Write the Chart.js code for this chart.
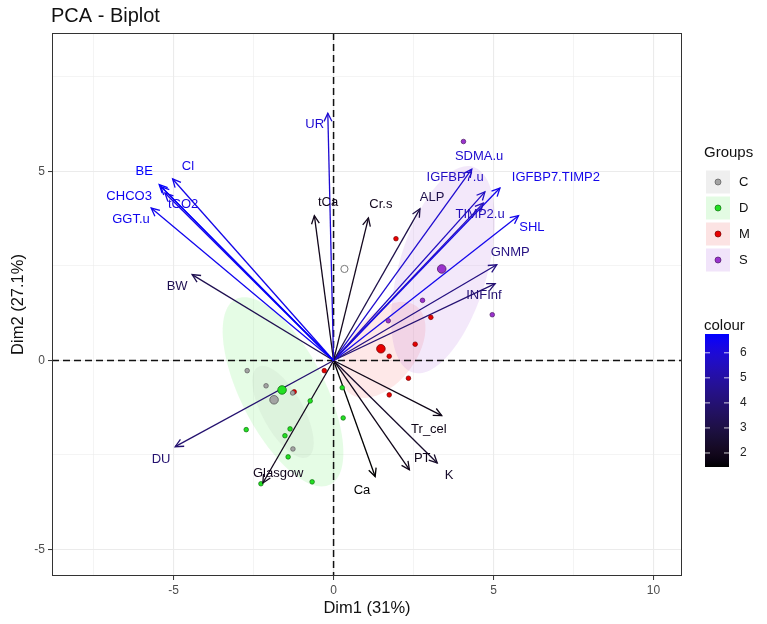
<!DOCTYPE html>
<html><head><meta charset="utf-8">
<script src="https://cdn.jsdelivr.net/npm/chart.js@4.4.1/dist/chart.umd.min.js"></script>
<style>html,body{margin:0;padding:0;background:#fff}#wrap{width:767px;height:624px;position:relative}</style>
</head><body><div id="wrap"><canvas id="c" width="767" height="624" style="width:767px;height:624px"></canvas></div>
<script>
// ---------------- data ----------------
const varNames   = ['UR','BE','Cl','CHCO3','tCO2','GGT.u','BW','DU','tCa','Cr.s','ALP','SDMA.u','IGFBP7.u','IGFBP7.TIMP2','TIMP2.u','SHL','GNMP','INFInf','Tr_cel','PT','K','Ca','Glasgow'];
const varX       = [-0.18,-5.45,-5.03,-5.40,-5.27,-5.70,-4.42,-4.95,-0.60,1.09,2.70,4.32,4.73,5.20,4.68,5.78,5.10,5.05,3.38,2.37,3.24,1.30,-2.21];
const varY       = [6.54,4.65,4.80,4.60,4.43,4.03,2.27,-2.28,3.83,3.77,4.01,5.06,4.46,4.56,4.16,3.83,2.53,2.03,-1.46,-2.89,-2.71,-3.07,-3.24];
const varContrib = [5.9,6.75,6.34,6.5,6.23,6.43,3.25,3.91,1.97,2.03,3.1,5.85,5.6,6.35,5.4,6.39,4.32,3.95,1.81,1.85,2.36,1.45,2.0];
const labelX     = [-0.59,-5.92,-4.55,-6.39,-4.70,-6.33,-4.89,-5.39,-0.17,1.48,3.08,4.55,3.80,6.95,4.58,6.20,5.52,4.70,2.98,2.77,3.61,0.89,-1.73];
const labelY     = [6.24,4.99,5.12,4.33,4.12,3.72,1.95,-2.63,4.17,4.12,4.30,5.39,4.83,4.83,3.86,3.51,2.85,1.71,-1.83,-2.60,-3.03,-3.45,-2.99];

const groupNames = ['C','D','M','S'];
const indCx = [-2.70,-2.11,-1.28,-1.27];
const indCy = [-0.27,-0.67,-0.86,-2.34];
const indDx = [-0.73,-2.73,-1.36,-1.52,-1.42,-2.27,-0.67,0.27,0.30];
const indDy = [-1.07,-1.83,-1.81,-1.99,-2.55,-3.26,-3.21,-0.72,-1.52];
const indMx = [-0.29,1.74,1.74,2.55,2.34,1.95,3.04,-1.23];
const indMy = [-0.27,0.11,-0.91,0.43,-0.47,3.22,1.14,-0.83];
const indSx = [4.06,2.78,4.96,1.71];
const indSy = [5.79,1.59,1.21,1.05];
const openX = [0.34];
const openY = [2.42];
const meanX = [-1.86,-1.61,1.48,3.38];
const meanY = [-1.04,-0.78,0.31,2.42];
// confidence ellipses: centre and two conjugate half-axes (data units)
const ellCx = [-1.58,-1.58,1.55,3.42];
const ellCy = [-1.36,-0.83,0.28,2.40];
const ellAx = [0.78,1.48,1.03,0.94];
const ellAy = [-1.19,-2.45,1.16,2.72];
const ellBx = [0.56,1.17,0.83,1.32];
const ellBy = [0.26,0.51,-0.52,-0.33];

const xTickValues = [-7.5,-5,-2.5,0,2.5,5,7.5,10];
const yTickValues = [-5,-2.5,0,2.5,5,7.5];
const colourTicks = [2,3,4,5,6];
const colourLimits = [1.44,6.75];
const xLimits = [-8.80,10.89];
const yLimits = [-5.70,8.66];

// ---------------- styles ----------------
const FONT = '"Liberation Sans", Arial, Helvetica, sans-serif';
const groupFill   = ['#A3A3A3','#22E022','#E80000','#9A32CD'];
const groupBorder = ['#5a5a5a','#117011','#7a0000','#4d1a66'];
const ellFill     = ['rgba(120,130,120,0.07)','rgba(0,230,0,0.10)','rgba(240,0,0,0.09)','rgba(150,50,205,0.11)'];
const keyFill     = ['#EFEFEF','#E3FBE3','#FCE3E3','#F1E4FA'];

// Lab interpolation black -> blue (as ggplot gradient)
function s2l(c){c/=255;return c<=0.04045?c/12.92:Math.pow((c+0.055)/1.055,2.4);}
function l2s(c){const v=c<=0.0031308?12.92*c:1.055*Math.pow(c,1/2.4)-0.055;return Math.round(Math.max(0,Math.min(1,v))*255);}
function toLab(rgb){const r=s2l(rgb[0]),g=s2l(rgb[1]),b=s2l(rgb[2]);
  const X=(0.4124*r+0.3576*g+0.1805*b)/0.95047,Y=0.2126*r+0.7152*g+0.0722*b,Z=(0.0193*r+0.1192*g+0.9505*b)/1.08883;
  const f=t=>t>0.008856?Math.cbrt(t):7.787*t+16/116;const fx=f(X),fy=f(Y),fz=f(Z);
  return [116*fy-16,500*(fx-fy),200*(fy-fz)];}
function fromLab(lab){const fy=(lab[0]+16)/116,fx=fy+lab[1]/500,fz=fy-lab[2]/200;
  const fi=t=>t*t*t>0.008856?t*t*t:(t-16/116)/7.787;
  const X=fi(fx)*0.95047,Y=fi(fy),Z=fi(fz)*1.08883;
  const r=3.2406*X-1.5372*Y-0.4986*Z,g=-0.9689*X+1.8758*Y+0.0415*Z,b=0.0557*X-0.2040*Y+1.0570*Z;
  return 'rgb('+l2s(r)+','+l2s(g)+','+l2s(b)+')';}
const LAB_LO=toLab([0,0,0]),LAB_HI=toLab([0,0,255]);
function gradColour(v){let t=(v-colourLimits[0])/(colourLimits[1]-colourLimits[0]);t=Math.max(0,Math.min(1,t));
  return fromLab([0,1,2].map(k=>LAB_LO[k]+(LAB_HI[k]-LAB_LO[k])*t));}

// ---------------- datasets ----------------
const zip=(xs,ys)=>xs.map((x,i)=>({x:x,y:ys[i]}));
const datasets=[];
datasets.push({label:'means',data:zip(meanX,meanY),pointRadius:4.3,pointBackgroundColor:groupFill,pointBorderColor:groupBorder,pointBorderWidth:0.8,showLine:false});
[[indCx,indCy],[indDx,indDy],[indMx,indMy],[indSx,indSy]].forEach((g,i)=>{
  datasets.push({label:groupNames[i],data:zip(g[0],g[1]),pointRadius:2.3,pointBackgroundColor:groupFill[i],pointBorderColor:groupBorder[i],pointBorderWidth:0.7,showLine:false});
});
datasets.push({label:'open',data:zip(openX,openY),pointRadius:3.6,pointBackgroundColor:'#ffffff',pointBorderColor:'#777777',pointBorderWidth:1,showLine:false});
varNames.forEach((n,i)=>{
  datasets.push({label:n,data:[{x:0,y:0},{x:varX[i],y:varY[i]}],showLine:true,borderColor:gradColour(varContrib[i]),borderWidth:1.3,pointRadius:0,fill:false});
});

// ---------------- plugin ----------------
function P(chart,x,y){return [chart.scales.x.getPixelForValue(x),chart.scales.y.getPixelForValue(y)];}
const biplot={
  id:'biplot',
  beforeDatasetsDraw(chart){
    const ctx=chart.ctx,a=chart.chartArea;
    ctx.save();ctx.beginPath();ctx.rect(a.left,a.top,a.right-a.left,a.bottom-a.top);ctx.clip();
    [1,2,3,0].forEach(i=>{
      const [cx,cy]=P(chart,ellCx[i],ellCy[i]);
      const [ax,ay]=P(chart,ellCx[i]+ellAx[i],ellCy[i]+ellAy[i]);
      const [bx,by]=P(chart,ellCx[i]+ellBx[i],ellCy[i]+ellBy[i]);
      const ux=ax-cx,uy=ay-cy,vx=bx-cx,vy=by-cy;
      ctx.beginPath();
      for(let k=0;k<=120;k++){const t=k/120*2*Math.PI;const X=cx+ux*Math.cos(t)+vx*Math.sin(t),Y=cy+uy*Math.cos(t)+vy*Math.sin(t);k?ctx.lineTo(X,Y):ctx.moveTo(X,Y);}
      ctx.closePath();ctx.fillStyle=ellFill[i];ctx.fill();
    });
    const [ox,oy]=P(chart,0,0);
    ctx.strokeStyle='#111';ctx.lineWidth=1.5;ctx.setLineDash([7,4]);
    ctx.beginPath();ctx.moveTo(a.left,oy);ctx.lineTo(a.right,oy);ctx.stroke();
    ctx.beginPath();ctx.moveTo(ox,a.top);ctx.lineTo(ox,a.bottom);ctx.stroke();
    ctx.restore();
  },
  afterDatasetsDraw(chart){
    const ctx=chart.ctx;const [ox,oy]=P(chart,0,0);
    ctx.save();
    varNames.forEach((n,i)=>{
      const [tx,ty]=P(chart,varX[i],varY[i]);const col=gradColour(varContrib[i]);
      const ang=Math.atan2(ty-oy,tx-ox),L=9,h=0.45;
      ctx.strokeStyle=col;ctx.lineWidth=1.3;ctx.setLineDash([]);
      ctx.beginPath();
      ctx.moveTo(tx-L*Math.cos(ang-h),ty-L*Math.sin(ang-h));ctx.lineTo(tx,ty);
      ctx.lineTo(tx-L*Math.cos(ang+h),ty-L*Math.sin(ang+h));ctx.stroke();
    });
    ctx.font='13px '+FONT;ctx.textAlign='center';ctx.textBaseline='middle';
    varNames.forEach((n,i)=>{
      const [lx,ly]=P(chart,labelX[i],labelY[i]);
      ctx.fillStyle=gradColour(varContrib[i]);ctx.fillText(n,lx,ly);
    });
    ctx.restore();
  },
  afterDraw(chart){
    const ctx=chart.ctx,a=chart.chartArea;
    ctx.save();
    ctx.strokeStyle='#333';ctx.lineWidth=1;ctx.setLineDash([]);
    ctx.strokeRect(a.left+0.5,a.top+0.5,a.right-a.left-1,a.bottom-a.top-1);
    // title
    ctx.fillStyle='#111';ctx.font='20px '+FONT;ctx.textAlign='left';ctx.textBaseline='alphabetic';
    ctx.fillText('PCA - Biplot',51,22);
    // Groups legend
    ctx.font='15px '+FONT;ctx.fillStyle='#111';ctx.textBaseline='middle';
    ctx.fillText('Groups',704,153);
    groupNames.forEach((g,i)=>{
      const cy=182+i*26;
      ctx.fillStyle=keyFill[i];ctx.fillRect(706,cy-11.5,24,23);
      ctx.beginPath();ctx.arc(718,cy,3,0,2*Math.PI);ctx.fillStyle=groupFill[i];ctx.fill();
      ctx.lineWidth=0.7;ctx.strokeStyle=groupBorder[i];ctx.stroke();
      ctx.fillStyle='#111';ctx.font='13px '+FONT;ctx.fillText(g,739,cy);
    });
    // colour bar
    ctx.font='15px '+FONT;ctx.fillStyle='#111';ctx.fillText('colour',704,326);
    const bx=705,bw=24,bt=334,bb=467;
    const gr=ctx.createLinearGradient(0,bb,0,bt);
    for(let k=0;k<=20;k++){const v=colourLimits[0]+(colourLimits[1]-colourLimits[0])*k/20;gr.addColorStop(k/20,gradColour(v));}
    ctx.fillStyle=gr;ctx.fillRect(bx,bt,bw,bb-bt);
    ctx.font='12px '+FONT;
    colourTicks.forEach(v=>{
      const y=bb-(v-colourLimits[0])/(colourLimits[1]-colourLimits[0])*(bb-bt);
      ctx.strokeStyle='rgba(255,255,255,0.8)';ctx.lineWidth=1;
      ctx.beginPath();ctx.moveTo(bx,y);ctx.lineTo(bx+5,y);ctx.moveTo(bx+bw-5,y);ctx.lineTo(bx+bw,y);ctx.stroke();
      ctx.fillStyle='#222';ctx.fillText(String(v),740,y);
    });
    ctx.restore();
  }
};

const isMajor=v=>Math.abs(v%5)<1e-9;
new Chart(document.getElementById('c'),{
  type:'scatter',
  data:{datasets:datasets},
  plugins:[biplot],
  options:{
    responsive:false,animation:false,devicePixelRatio:1,
    layout:{padding:{top:33,right:85,bottom:0,left:0}},
    plugins:{legend:{display:false},tooltip:{enabled:false},title:{display:false}},
    scales:{
      x:{type:'linear',min:xLimits[0],max:xLimits[1],
        afterBuildTicks:s=>{s.ticks=xTickValues.map(v=>({value:v}));},
        afterFit:s=>{s.height=48;},
        ticks:{callback:v=>isMajor(v)?String(v):'',color:'#4d4d4d',font:{size:12,family:FONT},padding:3,maxRotation:0,autoSkip:false},
        grid:{color:'#ebebeb',lineWidth:c=>c.tick&&isMajor(c.tick.value)?1.1:0.55,drawTicks:true,tickLength:4,
          tickColor:c=>c.tick&&isMajor(c.tick.value)?'#333':'rgba(0,0,0,0)',tickWidth:1},
        border:{display:false},
        title:{display:true,text:'Dim1 (31%)',color:'#111',font:{size:16.5,family:FONT},padding:{top:0,bottom:6}}
      },
      y:{type:'linear',min:yLimits[0],max:yLimits[1],
        afterBuildTicks:s=>{s.ticks=yTickValues.map(v=>({value:v}));},
        afterFit:s=>{s.width=52;},
        ticks:{callback:v=>isMajor(v)?String(v):'',color:'#4d4d4d',font:{size:12,family:FONT},padding:3,autoSkip:false},
        grid:{color:'#ebebeb',lineWidth:c=>c.tick&&isMajor(c.tick.value)?1.1:0.55,drawTicks:true,tickLength:4,
          tickColor:c=>c.tick&&isMajor(c.tick.value)?'#333':'rgba(0,0,0,0)',tickWidth:1},
        border:{display:false},
        title:{display:true,text:'Dim2 (27.1%)',color:'#111',font:{size:16.5,family:FONT},padding:{top:9,bottom:0}}
      }
    }
  }
});
</script></body></html>
